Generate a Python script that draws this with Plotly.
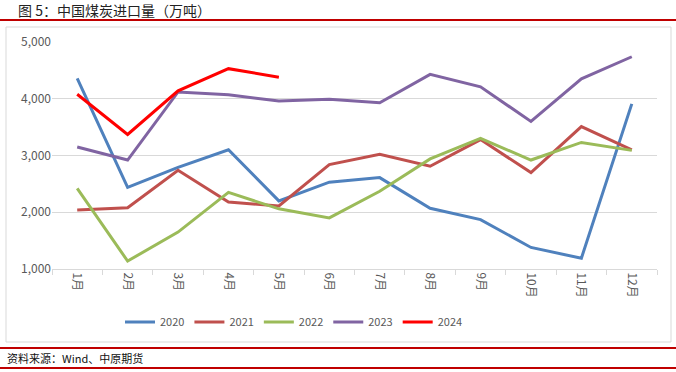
import plotly.graph_objects as go

months = ["1月", "2月", "3月", "4月", "5月", "6月", "7月", "8月", "9月", "10月", "11月", "12月"]
y2020 = [4360, 2440, 2790, 3100, 2200, 2530, 2610, 2070, 1870, 1380, 1190, 3910]
y2021 = [2040, 2080, 2740, 2180, 2110, 2840, 3020, 2810, 3280, 2700, 3510, 3100]
y2022 = [2420, 1140, 1650, 2350, 2060, 1900, 2370, 2940, 3300, 2920, 3230, 3090]
y2023 = [3150, 2920, 4120, 4070, 3960, 3990, 3930, 4430, 4210, 3600, 4350, 4740]
y2024 = [4080, 3370, 4140, 4530, 4380]

series = [
    ("2020", y2020, "#4f81bd"),
    ("2021", y2021, "#c0504d"),
    ("2022", y2022, "#9bbb59"),
    ("2023", y2023, "#8064a2"),
    ("2024", y2024, "#ff0000"),
]

FONT = "Noto Sans CJK SC"
fig = go.Figure()
for name, vals, color in series:
    fig.add_trace(go.Scatter(
        x=months[:len(vals)], y=vals, name=name, mode="lines",
        line=dict(color=color, width=3),
    ))

W, H = 676, 372
L, R, T, B = 52, 19, 42, 103
pw, ph = W - L - R, H - T - B

def px(x):
    return (x - L) / pw

def py(y):
    return (H - B - y) / ph

fig.update_layout(
    width=W, height=H, autosize=False,
    margin=dict(l=L, r=R, t=T, b=B, autoexpand=False),
    paper_bgcolor="white", plot_bgcolor="white",
    font=dict(family=FONT, size=11, color="#595959"),
    showlegend=True,
    legend=dict(orientation="h", xref="container", yref="container",
                x=294 / W, xanchor="center", y=1 - 322 / H, yanchor="middle",
                font=dict(size=11, color="#595959"), itemwidth=30, tracegroupgap=0),
    xaxis=dict(type="category", categoryorder="array", categoryarray=months,
               range=[-0.5, 11.5], showgrid=False, showline=True, linecolor="#d9d9d9",
               linewidth=1, ticks="outside", tickson="boundaries", ticklen=5,
               tickcolor="#d9d9d9", tickangle=90, tickfont=dict(size=12, color="#595959"),
               automargin=False, fixedrange=True),
    yaxis=dict(range=[1000, 5000], dtick=1000, tickformat=",", showgrid=True,
               gridcolor="#d9d9d9", gridwidth=1, zeroline=False, showline=False,
               ticks="", tickfont=dict(size=12, color="#595959"), automargin=False,
               fixedrange=True),
    shapes=[
        dict(type="rect", xref="paper", yref="paper", x0=px(6), x1=px(671), y0=py(342), y1=py(27),
             line=dict(color="#d9d9d9", width=1), layer="below"),
        dict(type="line", xref="paper", yref="paper", x0=px(0), x1=px(676), y0=py(20), y1=py(20),
             line=dict(color="#c00000", width=2)),
        dict(type="line", xref="paper", yref="paper", x0=px(0), x1=px(676), y0=py(348), y1=py(348),
             line=dict(color="#c00000", width=2)),
        dict(type="line", xref="paper", yref="paper", x0=px(0), x1=px(676), y0=py(368), y1=py(368),
             line=dict(color="#c00000", width=2)),
    ],
    annotations=[
        dict(text="图 5：中国煤炭进口量（万吨）", xref="paper", yref="paper", x=px(16), y=py(10),
             xanchor="left", yanchor="middle", showarrow=False,
             font=dict(family=FONT, size=14, color="#222222")),
        dict(text="资料来源：Wind、中原期货", xref="paper", yref="paper", x=px(5), y=py(358),
             xanchor="left", yanchor="middle", showarrow=False,
             font=dict(family=FONT, size=11, color="#111111")),
    ],
)

fig.write_html("out.html", config={"displayModeBar": False},
               post_script="document.body.style.margin='0';document.body.style.overflow='hidden';")
